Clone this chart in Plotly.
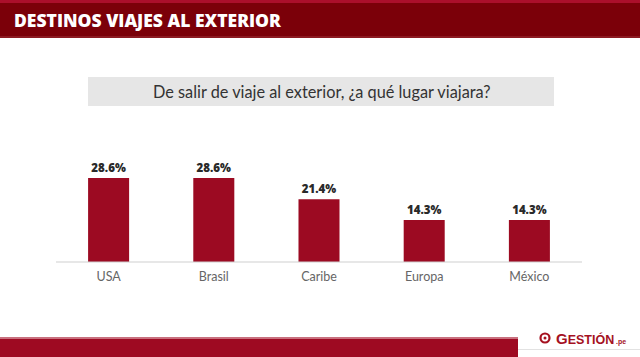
import plotly.graph_objects as go

categories = ["USA", "Brasil", "Caribe", "Europa", "México"]
values = [28.6, 28.6, 21.4, 14.3, 14.3]
value_labels = ["28.6%", "28.6%", "21.4%", "14.3%", "14.3%"]

W, H = 640, 357
L, R, T, B = 56, 58, 150, 95
PW, PH = W - L - R, H - T - B

def px(x):
    return (x - L) / PW

def py(y):
    return (H - B - y) / PH

BAR = "#9c0a22"
LOGO = "#a5111f"

fig = go.Figure()
fig.add_trace(go.Bar(
    x=categories, y=values, marker_color=BAR, marker_line_width=0,
    text=value_labels, textposition="outside", cliponaxis=False,
    textfont=dict(family="Open Sans", size=11.5, color="#2a2a2a", weight=800),
    hoverinfo="skip",
))

shapes = [
    # header
    dict(type="rect", xref="paper", yref="paper", x0=px(0), x1=px(W), y0=py(38), y1=py(0),
         fillcolor="#7b0009", line_width=0, layer="below"),
    dict(type="rect", xref="paper", yref="paper", x0=px(0), x1=px(W), y0=py(3), y1=py(0),
         fillcolor="#ab0f2b", line_width=0, layer="below"),
    dict(type="rect", xref="paper", yref="paper", x0=px(0), x1=px(W), y0=py(38), y1=py(36),
         fillcolor="#8c1a22", line_width=0, layer="below"),
    # subtitle box
    dict(type="rect", xref="paper", yref="paper", x0=px(88), x1=px(554), y0=py(106), y1=py(77),
         fillcolor="#e6e6e6", line_width=0, layer="below"),
    # baseline
    dict(type="line", xref="paper", yref="paper", x0=0, x1=1, y0=0, y1=0,
         line=dict(color="#cfcfcf", width=1)),
    # footer band
    dict(type="rect", xref="paper", yref="paper", x0=px(0), x1=px(518), y0=py(357), y1=py(337),
         fillcolor="#9e0a22", line_width=0, layer="below"),
    dict(type="rect", xref="paper", yref="paper", x0=px(0), x1=px(518), y0=py(339), y1=py(337),
         fillcolor="#c9707e", line_width=0, layer="below"),
    dict(type="line", xref="paper", yref="paper", x0=px(518), x1=px(640), y0=py(349.5), y1=py(349.5),
         line=dict(color="#e2e2e2", width=1)),
    # logo icon
    dict(type="circle", xref="paper", yref="paper", x0=px(540.5), x1=px(549.5), y0=py(342.5), y1=py(333.5),
         line=dict(color=LOGO, width=2.2), fillcolor="white"),
    dict(type="circle", xref="paper", yref="paper", x0=px(543.5), x1=px(546.5), y0=py(339.5), y1=py(336.5),
         line_width=0, fillcolor=LOGO),
]

annotations = [
    dict(text="DESTINOS VIAJES AL EXTERIOR", xref="paper", yref="paper", x=px(12), y=py(20),
         xanchor="left", yanchor="middle", showarrow=False,
         font=dict(family="Open Sans", size=17.5, color="white", weight=800)),
    dict(text="De salir de viaje al exterior, ¿a qué lugar viajara?", xref="paper", yref="paper",
         x=px(322), y=py(91.5), xanchor="center", yanchor="middle", showarrow=False,
         font=dict(family="Lato", size=16.3, color="#333333")),
    dict(text="G<span style='font-size:12.5px'>ESTIÓN</span>", xref="paper", yref="paper",
         x=px(554), y=py(338.5), xanchor="left", yanchor="middle", showarrow=False,
         font=dict(family="Liberation Sans", size=15, color=LOGO, weight="bold")),
    dict(text="<b>.pe</b>", xref="paper", yref="paper", x=px(614), y=py(342),
         xanchor="left", yanchor="middle", showarrow=False,
         font=dict(family="Liberation Sans", size=7, color=LOGO)),
]

fig.update_layout(
    width=W, height=H, margin=dict(l=L, r=R, t=T, b=B, pad=0),
    paper_bgcolor="white", plot_bgcolor="white",
    bargap=0.61, showlegend=False,
    shapes=shapes, annotations=annotations,
    xaxis=dict(showgrid=False, showline=False, zeroline=False, ticks="",
               ticklabelstandoff=5,
               tickfont=dict(family="Lato", size=12.5, color="#666666"), fixedrange=True),
    yaxis=dict(range=[0, PH / 2.935], visible=False, fixedrange=True),
)

fig.write_html("out.html", config={"displayModeBar": False},
               post_script="document.body.style.margin='0';document.body.style.overflow='hidden';")
